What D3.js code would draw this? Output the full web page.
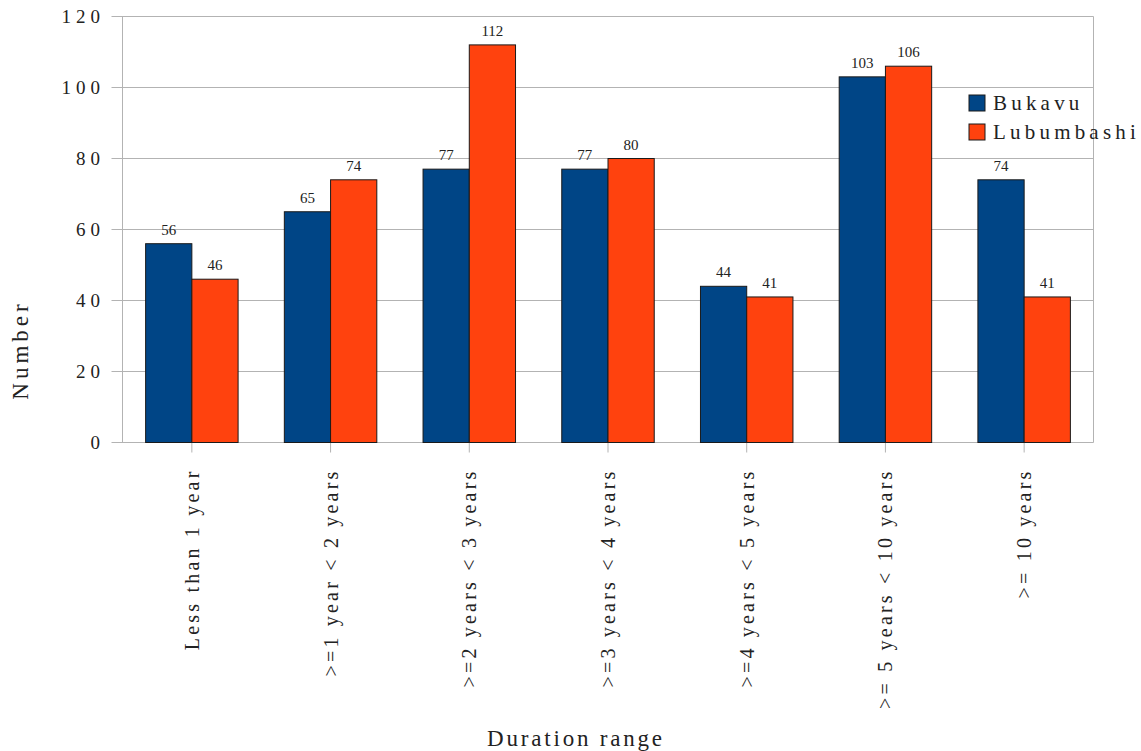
<!DOCTYPE html>
<html>
<head>
<meta charset="utf-8">
<script src="https://cdn.jsdelivr.net/npm/d3@7"></script>
<style>
  body { margin: 0; background: #fff; }
  svg { display: block; }
  text { font-family: "Liberation Serif", "DejaVu Serif", serif; fill: #222; }
</style>
</head>
<body>
<svg id="chart" width="1141" height="751"></svg>
<script>
// Duration ranges and counts per city
const categories = [
  "Less than 1 year",
  ">=1 year < 2 years",
  ">=2 years < 3 years",
  ">=3 years < 4 years",
  ">=4 years < 5 years",
  ">= 5 years < 10 years",
  ">= 10 years"
];
const seriesNames = ["Bukavu", "Lubumbashi"];
const bukavu = [56, 65, 77, 77, 44, 103, 74];
const lubumbashi = [46, 74, 112, 80, 41, 106, 41];
const yTicks = [0, 20, 40, 60, 80, 100, 120];
const colors = ["#004586", "#ff420e"];

const svg = d3.select("#chart");
const plotLeft = 122.5, plotRight = 1093.5, plotTop = 16.5, plotBottom = 442.5;

const x = d3.scaleBand().domain(categories).range([plotLeft, plotRight]).paddingInner(1/3).paddingOuter(1/6);
const xs = d3.scaleBand().domain(seriesNames).range([0, x.bandwidth()]);
const y = d3.scaleLinear().domain([0, 120]).range([plotBottom, plotTop]);

// Horizontal grid
svg.append("g").selectAll("line").data(yTicks).join("line")
  .attr("x1", plotLeft - 11).attr("x2", plotRight)
  .attr("y1", d => y(d)).attr("y2", d => y(d))
  .attr("stroke", "#b3b3b3").attr("stroke-width", 1);

// Plot frame (left and right edges)
svg.append("line").attr("x1", plotLeft).attr("x2", plotLeft).attr("y1", plotTop).attr("y2", plotBottom)
  .attr("stroke", "#b3b3b3");
svg.append("line").attr("x1", plotRight).attr("x2", plotRight).attr("y1", plotTop).attr("y2", plotBottom)
  .attr("stroke", "#b3b3b3");

// Y tick labels
svg.append("g").selectAll("text").data(yTicks).join("text")
  .attr("x", 105).attr("y", d => y(d) + 6.5)
  .attr("text-anchor", "end")
  .attr("font-size", 19).attr("letter-spacing", "5px")
  .text(d => d);

// Category tick marks below axis
svg.append("g").selectAll("line").data(categories).join("line")
  .attr("x1", d => x(d) + x.bandwidth() / 2).attr("x2", d => x(d) + x.bandwidth() / 2)
  .attr("y1", plotBottom).attr("y2", plotBottom + 10)
  .attr("stroke", "#b3b3b3");

// Bars
const data = categories.map((c, i) => ({ cat: c, vals: [bukavu[i], lubumbashi[i]] }));
const groups = svg.append("g").selectAll("g").data(data).join("g")
  .attr("transform", d => `translate(${x(d.cat)},0)`);

groups.selectAll("rect").data(d => d.vals.map((v, j) => ({ name: seriesNames[j], v, j }))).join("rect")
  .attr("x", d => xs(d.name))
  .attr("y", d => y(d.v))
  .attr("width", xs.bandwidth())
  .attr("height", d => y(0) - y(d.v))
  .attr("fill", d => colors[d.j])
  .attr("stroke", "#1a1a1a").attr("stroke-width", 1);

// Value labels
groups.selectAll("text").data(d => d.vals.map((v, j) => ({ name: seriesNames[j], v, j }))).join("text")
  .attr("x", d => xs(d.name) + xs.bandwidth() / 2)
  .attr("y", d => y(d.v) - 9)
  .attr("text-anchor", "middle")
  .attr("font-size", 15)
  .text(d => d.v);

// Category labels, rotated
svg.append("g").selectAll("text").data(categories).join("text")
  .attr("transform", d => `translate(${x(d) + x.bandwidth() / 2 + 7},${plotBottom + 26}) rotate(-90)`)
  .attr("text-anchor", "end")
  .attr("font-size", 20).attr("letter-spacing", "3.2px")
  .text(d => d);

// Axis titles
svg.append("text")
  .attr("x", 576).attr("y", 746)
  .attr("text-anchor", "middle")
  .attr("font-size", 23).attr("letter-spacing", "2.8px")
  .text("Duration range");

svg.append("text")
  .attr("transform", `translate(28,350) rotate(-90)`)
  .attr("text-anchor", "middle")
  .attr("font-size", 23).attr("letter-spacing", "4px")
  .text("Number");

// Legend
const legend = svg.append("g").selectAll("g").data(seriesNames).join("g")
  .attr("transform", (d, i) => `translate(969,${95 + i * 29})`);
legend.append("rect")
  .attr("width", 16).attr("height", 16)
  .attr("fill", (d, i) => colors[i])
  .attr("stroke", "#1a1a1a").attr("stroke-width", 1);
legend.append("text")
  .attr("x", 24).attr("y", 15)
  .attr("font-size", 21).attr("letter-spacing", "4.2px")
  .text(d => d);
</script>
</body>
</html>
